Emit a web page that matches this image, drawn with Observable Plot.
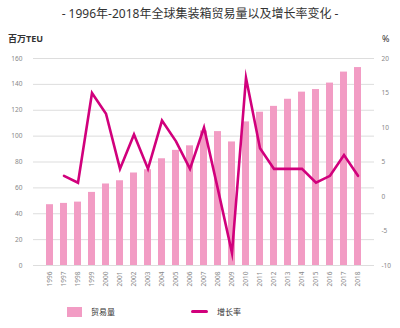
<!DOCTYPE html>
<html><head><meta charset="utf-8">
<script src="https://cdn.jsdelivr.net/npm/d3@7"></script>
<script src="https://cdn.jsdelivr.net/npm/@observablehq/plot@0.6"></script>
<style>
body{margin:0;background:#fff;font-family:"Noto Sans","Noto Sans CJK SC",sans-serif;}
#wrap{position:relative;width:400px;height:328px;overflow:hidden;}
#wrap svg{position:absolute;left:0;top:0;}
.t{position:absolute;white-space:nowrap;color:#333;}
</style></head><body>
<div id="wrap">
<div class="t" style="left:0;width:400px;top:6px;text-align:center;font-size:12px;line-height:16px;">- 1996年-2018年全球集装箱贸易量以及增长率变化 -</div>
<div class="t" style="left:8px;top:32px;font-size:9px;font-weight:bold;line-height:14px;">百万TEU</div>
<div class="t" style="left:382px;top:32px;font-size:9px;line-height:14px;">%</div>
<div style="position:absolute;left:67px;top:307px;width:15px;height:10px;background:#f29cc4;"></div>
<div class="t" style="left:91px;top:306px;font-size:8px;line-height:12px;">贸易量</div>
<div style="position:absolute;left:191px;top:310px;width:17px;height:3px;background:#d1007c;border-radius:1.5px;"></div>
<div class="t" style="left:217px;top:306px;font-size:8px;line-height:12px;">增长率</div>
</div>
<script>
const years = ["1996","1997","1998","1999","2000","2001","2002","2003","2004","2005","2006","2007","2008","2009","2010","2011","2012","2013","2014","2015","2016","2017","2018"];
const volume = [47,48,49,56.5,63,65.5,71.5,74,82.5,89,92.5,104,103.5,95.5,111,118.5,123,128.5,134,136,141,149.5,153];
const rateYears = ["1997","1998","1999","2000","2001","2002","2003","2004","2005","2006","2007","2008","2009","2010","2011","2012","2013","2014","2015","2016","2017","2018"];
const rate = [3,2,15,12,4,9,4,11,8,4,10,1,-8.2,17.2,7,4,4,4,2,3,6,3];
const leftTicks = [0,20,40,60,80,100,120,140,160];
const rightTicks = [-10,-5,0,5,10,15,20];

const toLeft = v => (v + 10) * 160 / 30;
const bars = years.map((y, i) => ({year: y, value: volume[i]}));
const line = rateYears.map((y, i) => ({year: y, value: toLeft(rate[i])}));

const chart = Plot.plot({
  width: 400, height: 328,
  marginTop: 58, marginBottom: 63, marginLeft: 33, marginRight: 26,
  style: {fontFamily: '"Noto Sans","Noto Sans CJK SC",sans-serif', color: "#777", background: "transparent"},
  x: {type: "band", domain: years, paddingInner: 0.48, paddingOuter: 0.24, label: null},
  y: {domain: [0, 160], label: null},
  marks: [
    Plot.gridY(leftTicks, {stroke: "#ddd", strokeOpacity: 1, strokeWidth: 1}),
    Plot.barY(bars, {x: "year", y: "value", fill: "#f29cc4"}),
    Plot.line(line, {x: "year", y: "value", stroke: "#d1007c", strokeWidth: 2.6, strokeLinejoin: "miter", strokeMiterlimit: 10}),
    Plot.axisY(leftTicks, {anchor: "left", tickSize: 0, tickPadding: 11, fontSize: 6.5, fill: "#888", label: null}),
    Plot.axisY(rightTicks.map(toLeft), {anchor: "right", tickSize: 0, tickPadding: 7, fontSize: 6.5, fill: "#888", label: null, textAnchor: "start",
      tickFormat: d => String(Math.round(d * 30 / 160 - 10))}),
    Plot.axisX({tickRotate: -90, tickSize: 0, tickPadding: 6, fontSize: 6.5, fill: "#888", label: null})
  ]
});
document.getElementById("wrap").prepend(chart);
</script>
</body></html>
